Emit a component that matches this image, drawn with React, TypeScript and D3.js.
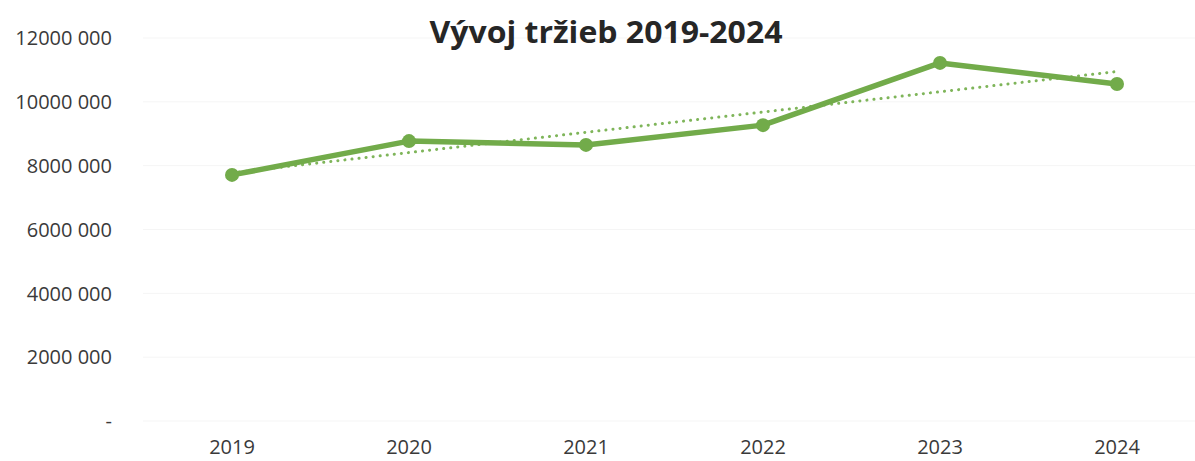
import React, { useEffect, useRef } from "react";
import { select, scaleLinear, scalePoint, line } from "d3";

const years = ["2019", "2020", "2021", "2022", "2023", "2024"];
const revenue = [7710000, 8770000, 8650000, 9270000, 11220000, 10560000];
const yTicks = [0, 2000000, 4000000, 6000000, 8000000, 10000000, 12000000];
const yTickLabels = ["-", "2000 000", "4000 000", "6000 000", "8000 000", "10000 000", "12000 000"];
const title = "Vývoj tržieb 2019-2024";

function App() {
  const ref = useRef<SVGSVGElement>(null);

  const width = 1195;
  const height = 461;
  const font = "'Open Sans', sans-serif";

  useEffect(() => {
    const svg = select(ref.current);
    svg.selectAll("*").remove();

    const x = scalePoint().domain(years).range([232, 1117]);
    const y = scaleLinear().domain([0, 12000000]).range([421, 38]);

    // faint gridlines
    svg
      .append("g")
      .selectAll("line")
      .data(yTicks)
      .join("line")
      .attr("x1", 143)
      .attr("x2", width)
      .attr("y1", (d) => y(d))
      .attr("y2", (d) => y(d))
      .attr("stroke", "#f5f5f5")
      .attr("stroke-width", 1);

    // y labels
    svg
      .append("g")
      .selectAll("text")
      .data(yTicks)
      .join("text")
      .attr("x", 112)
      .attr("y", (d) => y(d))
      .attr("dy", "0.36em")
      .attr("text-anchor", "end")
      .attr("font-family", font)
      .attr("font-size", 20)
      .attr("fill", "#3a3a3a")
      .text((d, i) => yTickLabels[i]);

    // x labels
    svg
      .append("g")
      .selectAll("text")
      .data(years)
      .join("text")
      .attr("x", (d) => x(d) as number)
      .attr("y", 454)
      .attr("text-anchor", "middle")
      .attr("font-family", font)
      .attr("font-size", 20)
      .attr("fill", "#3a3a3a")
      .text((d) => d);

    // linear trend
    const n = revenue.length;
    const mx = (n - 1) / 2;
    const my = revenue.reduce((a, b) => a + b, 0) / n;
    let sxy = 0;
    let sxx = 0;
    revenue.forEach((v, i) => {
      sxy += (i - mx) * (v - my);
      sxx += (i - mx) * (i - mx);
    });
    const slope = sxy / sxx;
    const trend = years.map((yr, i) => ({ yr, v: my + slope * (i - mx) }));

    svg
      .append("path")
      .datum(trend)
      .attr("fill", "none")
      .attr("stroke", "#7fb55a")
      .attr("stroke-width", 3)
      .attr("stroke-linecap", "round")
      .attr("stroke-dasharray", "0.1 7")
      .attr(
        "d",
        line<{ yr: string; v: number }>()
          .x((d) => x(d.yr) as number)
          .y((d) => y(d.v))
      );

    // main line
    const pts = years.map((yr, i) => ({ yr, v: revenue[i] }));
    svg
      .append("path")
      .datum(pts)
      .attr("fill", "none")
      .attr("stroke", "#72ab4a")
      .attr("stroke-width", 5.5)
      .attr("stroke-linejoin", "round")
      .attr(
        "d",
        line<{ yr: string; v: number }>()
          .x((d) => x(d.yr) as number)
          .y((d) => y(d.v))
      );

    svg
      .append("g")
      .selectAll("circle")
      .data(pts)
      .join("circle")
      .attr("cx", (d) => x(d.yr) as number)
      .attr("cy", (d) => y(d.v))
      .attr("r", 7)
      .attr("fill", "#72ab4a");

    svg
      .append("text")
      .attr("x", 606)
      .attr("y", 43)
      .attr("text-anchor", "middle")
      .attr("font-family", font)
      .attr("font-weight", "bold")
      .attr("font-size", 30.5)
      .attr("textLength", 353)
      .attr("lengthAdjust", "spacingAndGlyphs")
      .attr("fill", "#262626")
      .text(title);
  }, []);

  return (
    <svg
      ref={ref}
      width={width}
      height={height}
      style={{ position: "absolute", left: 0, top: 0, background: "#fff" }}
    />
  );
}

export default App;
